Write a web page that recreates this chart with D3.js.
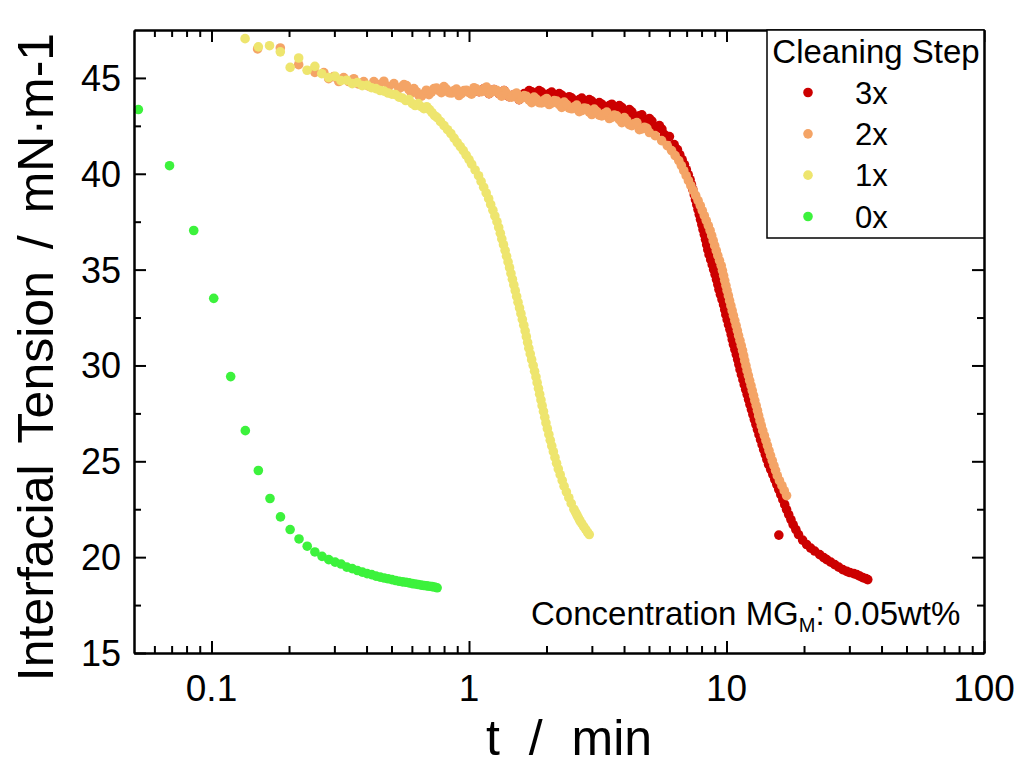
<!DOCTYPE html>
<html><head><meta charset="utf-8">
<script src="https://cdn.jsdelivr.net/npm/d3@7"></script>
<style>
body{margin:0;background:#fff}
svg{display:block;background:#fff}
text{font-family:"Liberation Sans",Arial,sans-serif;fill:#000}
</style>
</head><body>
<svg id="chart" width="1022" height="767"></svg>
<script>
// ---------- data ----------
const seriesNames = ["3x", "2x", "1x", "0x"];
const seriesColors = ["#CC0000", "#F4A466", "#EEE56E", "#3CF23C"];

const t3x = [1.094,1.144,1.196,1.251,1.308,1.368,1.431,1.496,1.565,1.637,1.712,1.790,1.872,1.958,2.048,2.142,2.240,2.342,2.450,2.562,2.680,2.802,2.931,3.065,3.205,3.352,3.506,3.666,3.835,4.010,4.194,4.386,4.588,4.798,5.018,5.248,5.488,5.740,6.003,
1.674,1.751,1.831,1.914,2.002,2.094,2.191,2.291,2.395,2.506,2.620,2.741,2.866,2.998,3.135,3.278,3.428,3.586,3.749,3.922,4.101,4.289,4.486,4.692,4.907,5.132,5.367,5.613,5.871,
6.262,6.449,6.583,6.726,6.866,6.984,7.104,7.220,7.311,7.404,7.496,7.578,7.667,7.750,7.840,7.925,8.018,8.105,8.200,8.287,8.376,8.459,8.557,8.683,8.801,8.912,9.031,9.146,9.253,9.349,9.470,9.607,9.738,9.843,9.940,10.06,10.18,10.31,10.43,10.53,10.64,10.78,10.92,11.05,11.17,11.29,11.43,11.58,11.72,11.87,12.03,12.18,12.33,12.50,12.66,12.83,13.01,13.19,13.37,13.56,13.75,13.94,14.15,14.35,14.57,14.85,15.13,15.40,15.68,15.96,16.25,16.55,16.83,17.11,17.44,17.79,18.14,18.59,19.04,19.75,20.47,21.23,22.00,23.01,23.85,24.50,25.40,26.32,27.28,28.28,29.31,30.11,31.21,32.06,32.93,33.83,34.74,35.37,15.97];
const ift3x = [44.28,44.44,44.18,44.39,44.18,44.34,44.02,44.13,43.87,44.18,44.34,44.08,44.34,44.08,44.18,44.02,44.18,43.87,44.02,43.76,43.87,43.71,43.87,43.56,43.71,43.45,43.56,43.40,43.56,43.22,43.35,43.01,43.03,42.80,42.88,42.46,42.51,42.04,41.94,
44.15,44.28,44.10,44.26,44.05,44.26,44.00,44.10,43.84,43.95,43.74,43.95,43.69,43.79,43.53,43.63,43.43,43.63,43.37,43.46,43.18,43.23,42.94,43.07,42.73,42.75,42.38,42.33,41.91,
41.52,41.26,41.00,40.74,40.48,40.21,39.96,39.69,39.43,39.17,38.91,38.65,38.39,38.13,37.87,37.61,37.35,37.09,36.83,36.57,36.30,36.04,35.78,35.52,35.26,35.00,34.74,34.48,34.22,33.96,33.70,33.44,33.17,32.91,32.65,32.39,32.13,31.87,31.61,31.35,31.09,30.83,30.57,30.31,30.05,29.78,29.52,29.26,29.00,28.74,28.48,28.22,27.96,27.70,27.44,27.18,26.92,26.66,26.39,26.13,25.87,25.61,25.35,25.09,24.83,24.57,24.31,24.05,23.79,23.53,23.26,23.00,22.74,22.48,22.22,21.96,21.70,21.44,21.18,20.89,20.66,20.47,20.32,20.13,19.98,19.87,19.74,19.61,19.48,19.35,19.26,19.20,19.14,19.09,19.01,18.93,18.88,18.83,21.15];

const t2x = [0.151,0.185,0.218,0.252,
0.273,0.285,0.298,0.312,0.326,0.341,0.357,0.373,0.390,0.408,0.427,0.447,0.467,0.488,0.511,0.534,0.559,0.584,0.611,0.639,0.668,0.699,0.731,0.764,0.799,0.836,0.874,0.914,0.956,1.000,1.046,1.094,1.144,1.196,1.251,1.308,1.368,1.431,1.496,1.565,1.637,1.712,1.790,1.872,1.958,2.048,2.142,2.240,2.342,2.450,2.562,2.680,2.802,2.931,3.065,3.205,3.352,3.506,3.666,3.835,4.010,4.194,4.386,4.588,4.798,5.018,
0.546,0.572,0.597,0.625,0.654,0.683,0.715,0.748,0.781,0.817,0.855,0.894,0.935,0.978,1.023,1.070,1.119,1.170,1.223,1.279,1.338,1.399,1.463,1.530,1.601,1.674,1.751,1.831,1.914,2.002,2.094,2.191,2.291,2.395,2.506,2.620,2.741,2.866,2.998,3.135,3.278,3.428,3.586,3.749,3.922,4.101,4.289,4.486,4.692,4.907,
5.281,5.597,5.886,6.117,6.318,6.525,6.678,6.823,6.972,7.115,7.271,7.430,7.591,7.756,7.911,8.053,8.200,8.347,8.498,8.636,8.761,8.880,8.999,9.129,9.253,9.394,9.539,9.642,9.745,9.843,9.950,10.05,10.17,10.28,10.40,10.52,10.64,10.77,10.90,11.02,11.14,11.28,11.41,11.54,11.66,11.77,11.90,12.02,12.16,12.30,12.45,12.59,12.74,12.88,13.04,13.19,13.33,13.49,13.65,13.83,14.03,14.23,14.42,14.62,14.83,15.06,15.28,15.51,15.75,16.06,16.42,16.76,17.11];
const ift2x = [46.51,46.56,45.69,45.29,
45.28,44.96,45.07,44.81,45.02,44.81,44.96,44.68,44.81,44.57,44.81,44.65,44.83,44.55,44.70,44.44,44.65,44.39,44.44,44.08,44.18,44.13,44.44,44.34,44.55,44.23,44.34,44.08,44.34,44.23,44.49,44.28,44.44,44.18,44.39,44.18,44.34,44.02,44.13,43.87,44.08,43.84,44.00,43.71,43.84,43.61,43.82,43.61,43.74,43.43,43.50,43.24,43.43,43.22,43.37,43.06,43.14,42.88,43.06,42.82,42.93,42.56,42.62,42.30,42.43,42.15,
44.52,44.60,44.21,44.28,44.05,44.36,44.26,44.47,44.23,44.42,44.21,44.42,44.18,44.36,44.15,44.42,44.28,44.52,44.26,44.36,44.05,44.21,44.00,44.21,43.95,44.04,43.71,43.88,43.70,43.93,43.69,43.79,43.46,43.61,43.39,43.58,43.30,43.40,43.09,43.24,43.02,43.22,42.94,43.02,42.67,42.77,42.51,42.67,42.34,42.37,
41.99,41.73,41.47,41.21,40.95,40.69,40.43,40.16,39.90,39.64,39.38,39.12,38.86,38.60,38.34,38.08,37.82,37.56,37.30,37.04,36.77,36.51,36.25,35.99,35.73,35.47,35.21,34.95,34.69,34.43,34.17,33.91,33.64,33.38,33.12,32.86,32.60,32.34,32.08,31.82,31.56,31.30,31.04,30.78,30.51,30.25,29.99,29.73,29.47,29.21,28.95,28.69,28.43,28.17,27.91,27.65,27.38,27.12,26.86,26.60,26.34,26.08,25.82,25.56,25.30,25.04,24.78,24.52,24.25,23.99,23.73,23.47,23.21];

const t1x = [0.135,0.152,0.168,0.185,0.202,0.218,0.235,0.252,
0.268,0.285,0.302,0.318,0.335,0.352,0.368,0.385,0.402,0.418,0.435,0.452,0.468,0.485,0.502,0.518,0.535,0.552,0.568,0.585,0.602,0.618,0.635,0.652,0.668,0.685,0.702,0.718,0.735,0.752,0.775,0.800,0.825,0.850,0.875,0.900,0.925,0.950,0.975,1.000,
1.024,1.056,1.089,1.114,1.140,1.166,1.192,1.214,1.238,1.260,1.284,1.304,1.323,1.341,1.361,1.381,1.399,1.418,1.437,1.455,1.474,1.493,1.512,1.531,1.550,1.571,1.591,1.611,1.632,1.652,1.670,1.689,1.707,1.729,1.751,1.775,1.797,1.820,1.839,1.861,1.881,1.903,1.923,1.946,1.969,1.990,2.015,2.042,2.068,2.096,2.126,2.157,2.188,2.222,2.260,2.301,2.340,2.389,2.441,2.494,2.555,2.590,2.625,2.660,2.696,2.741,2.787,2.838,2.886,2.931];
const ift1x = [47.05,46.62,46.68,46.36,45.55,46.04,45.40,45.60,
45.22,45.02,45.08,44.86,44.88,44.70,44.76,44.60,44.62,44.49,44.44,44.34,44.31,44.21,44.15,44.13,44.00,43.95,43.82,43.87,43.66,43.56,43.66,43.50,43.40,43.50,43.35,43.19,43.03,42.93,42.72,42.51,42.30,42.10,41.86,41.63,41.42,41.21,40.97,40.74,
40.5,40.2,39.9,39.6,39.3,39.0,38.7,38.4,38.1,37.8,37.5,37.2,36.9,36.6,36.3,36.0,35.7,35.4,35.1,34.8,34.5,34.2,33.9,33.6,33.3,33.0,32.7,32.4,32.1,31.8,31.5,31.2,30.9,30.6,30.3,30.0,29.7,29.4,29.1,28.8,28.5,28.2,27.9,27.6,27.3,27.0,26.7,26.4,26.1,25.8,25.5,25.2,24.9,24.6,24.3,24.0,23.7,23.4,23.1,22.8,22.5,22.35,22.2,22.05,21.9,21.75,21.6,21.45,21.3,21.18];

const t0x = [0.052,0.0687,0.0853,0.102,0.1187,0.1353,0.152,0.1687,0.1853,0.202,0.2187,0.2353,0.252,0.2687,0.2853,0.302,0.3187,0.3353,0.352,0.3687,0.3853,0.402,0.4187,0.4353,0.452,0.4687,0.4853,0.502,0.5187,0.5353,0.552,0.5687,0.5853,0.602,0.6187,0.6353,0.652,0.6687,0.6853,0.702,0.7187,0.7353,0.752];
const ift0x = [43.35,40.42,37.04,33.50,29.42,26.60,24.52,23.06,22.10,21.44,20.95,20.57,20.27,20.04,19.87,19.74,19.64,19.48,19.40,19.30,19.22,19.14,19.09,19.01,18.96,18.91,18.87,18.83,18.78,18.74,18.71,18.69,18.66,18.62,18.60,18.57,18.54,18.52,18.50,18.48,18.46,18.44,18.40];

const xMajorTicks = [0.1, 1, 10, 100];
const xTickLabels = ["0.1", "1", "10", "100"];
const xMinorTicks = [0.06,0.07,0.08,0.09,0.2,0.3,0.4,0.5,0.6,0.7,0.8,0.9,2,3,4,5,6,7,8,9,20,30,40,50,60,70,80,90];
const yMajorTicks = [15, 20, 25, 30, 35, 40, 45];
const yMinorTicks = [17.5, 22.5, 27.5, 32.5, 37.5, 42.5];
const xTitle = "t / min";
const yTitle = "Interfacial Tension / mN\u00B7m-1";
const legendTitle = "Cleaning Step";

// ---------- chart ----------
const svg = d3.select("#chart");
const L = 134, R = 984, T = 30, B = 653;
const x = d3.scaleLog().domain([0.05, 100]).range([L, R]);
const y = d3.scaleLinear().domain([15, 47.5]).range([B, T]);

const series = [
  {name: seriesNames[0], color: seriesColors[0], t: t3x, v: ift3x},
  {name: seriesNames[1], color: seriesColors[1], t: t2x, v: ift2x},
  {name: seriesNames[2], color: seriesColors[2], t: t1x, v: ift1x},
  {name: seriesNames[3], color: seriesColors[3], t: t0x, v: ift0x}
];

const plot = svg.append("g");
series.forEach(s => {
  plot.append("g").selectAll("circle")
    .data(s.t.map((t, i) => ({t, v: s.v[i]})))
    .join("circle")
    .attr("cx", d => x(d.t))
    .attr("cy", d => y(d.v))
    .attr("r", 4.8)
    .attr("fill", s.color);
});

// axes: major + minor on all four sides, ticks inward
function addAxis(gen, transform, size, vals) {
  const g = svg.append("g").attr("transform", transform)
    .call(gen.tickValues(vals).tickSize(size).tickSizeOuter(0).tickFormat(""));
  g.selectAll("path.domain").attr("stroke", "#000").attr("stroke-width", 2);
  g.selectAll(".tick line").attr("stroke", "#000").attr("stroke-width", 2);
  g.selectAll(".tick text").remove();
  return g;
}
addAxis(d3.axisBottom(x), `translate(0,${B})`, -12, xMajorTicks);
addAxis(d3.axisBottom(x), `translate(0,${B})`, -7, xMinorTicks);
addAxis(d3.axisTop(x), `translate(0,${T})`, -12, xMajorTicks);
addAxis(d3.axisTop(x), `translate(0,${T})`, -7, xMinorTicks);
addAxis(d3.axisLeft(y), `translate(${L},0)`, -12, yMajorTicks);
addAxis(d3.axisLeft(y), `translate(${L},0)`, -7, yMinorTicks);
addAxis(d3.axisRight(y), `translate(${R},0)`, -12, yMajorTicks);
addAxis(d3.axisRight(y), `translate(${R},0)`, -7, yMinorTicks);

// tick labels
svg.append("g").selectAll("text").data(xMajorTicks).join("text")
  .attr("x", d => x(d)).attr("y", 701)
  .attr("text-anchor", "middle").attr("font-size", 37)
  .text((d, i) => xTickLabels[i]);
svg.append("g").selectAll("text").data(yMajorTicks).join("text")
  .attr("x", L - 13).attr("y", d => y(d) + 13)
  .attr("text-anchor", "end").attr("font-size", 36)
  .text(d => d);

// axis titles
svg.append("text").attr("x", 569).attr("y", 755)
  .attr("text-anchor", "middle").attr("font-size", 50)
  .style("word-spacing", "15px").text(xTitle);
svg.append("text").attr("transform", "translate(53,357) rotate(-90)")
  .attr("text-anchor", "middle").attr("font-size", 50)
  .style("word-spacing", "8px").text(yTitle);

// legend
const lg = svg.append("g");
lg.append("rect").attr("x", 767).attr("y", T).attr("width", R - 767).attr("height", 208)
  .attr("fill", "#fff").attr("stroke", "#000").attr("stroke-width", 1.5);
lg.append("text").attr("x", 876).attr("y", 63).attr("text-anchor", "middle")
  .attr("font-size", 33).text(legendTitle);
const legendRows = d3.scaleLinear().domain([0, 3]).range([92.5, 216.5]);
series.forEach((s, i) => {
  lg.append("circle").attr("cx", 808).attr("cy", legendRows(i)).attr("r", 4.8).attr("fill", s.color);
  lg.append("text").attr("x", 855).attr("y", legendRows(i) + 11).attr("font-size", 31).text(s.name);
});

// annotation
const ann = svg.append("text").attr("x", 531).attr("y", 625).attr("font-size", 33);
ann.append("tspan").text("Concentration MG");
ann.append("tspan").attr("font-size", 20).attr("dy", 7).text("M");
ann.append("tspan").attr("dy", -7).text(": 0.05wt%");
</script>
</body></html>
